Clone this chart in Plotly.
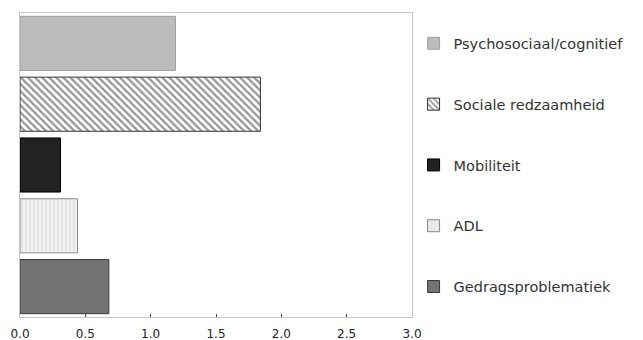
import plotly.graph_objects as go

# Data (bottom to top in plot order)
categories = ["Gedragsproblematiek", "ADL", "Mobiliteit", "Sociale redzaamheid", "Psychosociaal/cognitief"]
values = [0.68, 0.44, 0.31, 1.84, 1.19]
x_ticks = [0.0, 0.5, 1.0, 1.5, 2.0, 2.5, 3.0]
x_tick_labels = ["0.0", "0.5", "1.0", "1.5", "2.0", "2.5", "3.0"]

styles = {
    "Gedragsproblematiek": dict(color="#737373", line=dict(color="#3a3a3a", width=1)),
    "ADL": dict(color="#eeeeee", line=dict(color="#8a8a8a", width=1),
                pattern=dict(shape="|", fgcolor="#c4c4c4", bgcolor="#f2f2f2", size=4, solidity=0.35)),
    "Mobiliteit": dict(color="#222222", line=dict(color="#000000", width=1)),
    "Sociale redzaamheid": dict(color="#ffffff", line=dict(color="#333333", width=1),
                                pattern=dict(shape="\\", fgcolor="#2a2a2a", bgcolor="#ffffff", size=5, solidity=0.45)),
    "Psychosociaal/cognitief": dict(color="#bcbcbc", line=dict(color="#a0a0a0", width=1)),
}

fig = go.Figure()
n = len(categories)
for i, (cat, val) in enumerate(zip(categories, values)):
    legend_name = "legend" if i == 0 else f"legend{i + 1}"
    fig.add_trace(go.Bar(
        y=[cat], x=[val], orientation="h", name=cat,
        marker=styles[cat], legend=legend_name, width=0.89,
    ))
    fig.update_layout(**{legend_name: dict(
        x=1.004, xanchor="left", y=(i + 0.5) / n, yanchor="middle",
        font=dict(family="DejaVu Sans", size=14.5, color="#333333"),
        bgcolor="rgba(0,0,0,0)", itemwidth=30,
    )})

fig.update_layout(
    width=643, height=340,
    margin=dict(l=20, r=231, t=13, b=23),
    paper_bgcolor="white", plot_bgcolor="white",
    barmode="overlay",
    showlegend=True,
    xaxis=dict(
        range=[0, 3], tickvals=x_ticks, ticktext=x_tick_labels,
        showgrid=False, zeroline=False, automargin=False,
        showline=True, linecolor="#c8c8c8", linewidth=1, mirror=True,
        ticks="inside", ticklen=3, tickcolor="#444444",
        tickfont=dict(family="DejaVu Sans", size=12, color="#222222"),
        ticklabelstandoff=6,
    ),
    yaxis=dict(
        categoryorder="array", categoryarray=categories, automargin=False,
        showticklabels=False, showgrid=False, zeroline=False,
        showline=True, linecolor="#c8c8c8", linewidth=1, mirror=True,
        ticks="",
    ),
)

fig.write_html("out.html", config={"displayModeBar": False},
               post_script="document.body.style.margin='0';")
